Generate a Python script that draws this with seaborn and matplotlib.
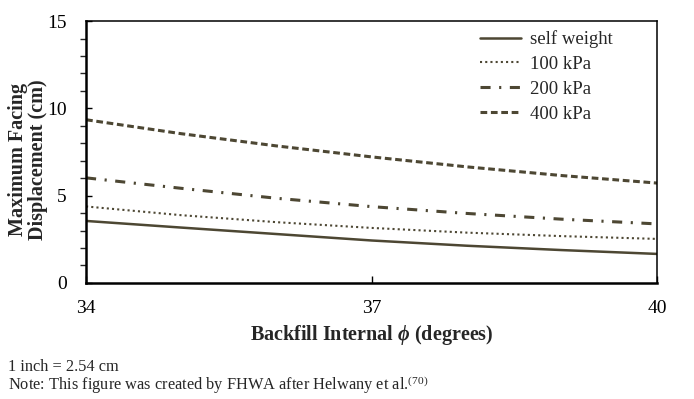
import matplotlib
matplotlib.use('Agg')
import matplotlib.pyplot as plt
import seaborn as sns
import pandas as pd

# Valores
phi = [34, 35, 36, 37, 38, 39, 40]
self_weight = [3.55, 3.17, 2.8, 2.43, 2.13, 1.88, 1.66]
kpa_100 = [4.38, 3.88, 3.48, 3.15, 2.88, 2.68, 2.52]
kpa_200 = [6.02, 5.42, 4.85, 4.37, 3.98, 3.65, 3.38]
kpa_400 = [9.35, 8.55, 7.85, 7.22, 6.65, 6.15, 5.72]

series = ['self weight', '100 kPa', '200 kPa', '400 kPa']
valores = [self_weight, kpa_100, kpa_200, kpa_400]

sns.set_style('ticks')
plt.rcParams['font.family'] = ['Liberation Serif', 'DejaVu Serif']
plt.rcParams['mathtext.fontset'] = 'custom'
plt.rcParams['mathtext.rm'] = 'Liberation Serif'
plt.rcParams['mathtext.bf'] = 'Liberation Serif:bold'
plt.rcParams['mathtext.it'] = 'Liberation Serif:italic'
plt.rcParams['mathtext.bfit'] = 'Liberation Serif:bold:italic'

cor = '#4d4733'
estilos = {
    'self weight': dict(linestyle='-', linewidth=1.8),
    '100 kPa': dict(linestyle=(0, (1, 1.5)), linewidth=1.5),
    '200 kPa': dict(linestyle=(0, (3.3, 2.8, 0.7, 2.8)), linewidth=2.2),
    '400 kPa': dict(linestyle=(0, (2.2, 1.2)), linewidth=2.2),
}

fig = plt.figure(figsize=(6.94, 3.99), dpi=100)
ax = fig.add_axes([0.124, 0.291, 0.823, 0.656])

for nome, y in zip(series, valores):
    df = pd.DataFrame({'phi': phi, 'desl': y})
    sns.lineplot(data=df, x='phi', y='desl', ax=ax, color=cor, label=nome,
                 **estilos[nome])

ax.set_xlim(34, 40)
ax.set_ylim(0, 15)
ax.set_xticks([34, 37, 40])
ax.set_yticks([0, 5, 10, 15])
ax.set_yticks(range(0, 16), minor=True)
ax.tick_params(axis='both', direction='in', labelsize=14, colors='black')
ax.tick_params(axis='y', which='both', length=4, width=1, pad=14)
ax.tick_params(axis='x', length=5, width=1, pad=12)
for s in ax.spines.values():
    s.set_color('black')
    s.set_linewidth(1.1)
ax.spines['left'].set_linewidth(1.8)
ax.spines['bottom'].set_linewidth(1.8)

ax.set_xlabel(r'Backfill Internal $\boldsymbol{\phi}$ (degrees)', fontsize=14.5,
              fontweight='bold')
ax.xaxis.set_label_coords(0.5, -0.155)
ax.set_ylabel('Maximum Facing\nDisplacement (cm)', fontsize=14.5,
              fontweight='bold', linespacing=1.0)
ax.yaxis.set_label_coords(-0.067, 0.47)

leg = ax.legend(loc='upper right', frameon=False, fontsize=13.5, handlelength=2.15,
                handletextpad=0.5, labelspacing=0.41, borderaxespad=0.3,
                bbox_to_anchor=(0.945, 1.015))

fig.text(0.012, 0.1,
         '1 inch = 2.54 cm\n'
         r'Note: This figure was created by FHWA after Helwany et al.$^{\mathrm{(70)}}$',
         fontsize=11.8, va='top', linespacing=0.95)

fig.savefig('out.png', dpi=100)
